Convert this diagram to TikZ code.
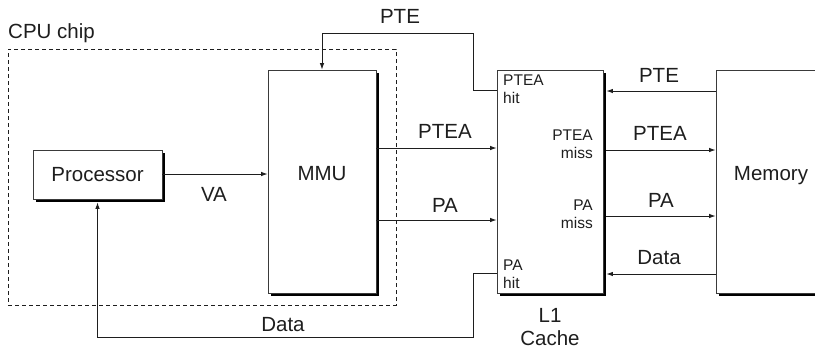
\documentclass[tikz,border=0pt]{standalone}
\usepackage{fontspec}
\setmainfont{Liberation Sans}
\usetikzlibrary{arrows.meta,positioning,calc,shadows}
\definecolor{VMInk}{HTML}{1E1E1E}
\definecolor{VMEdge}{HTML}{3A3A3A}
\tikzset{
  flow/.style={-{Latex[length=6.5pt,width=4.5pt]},VMInk,line width=0.9pt},
  unitbox/.style={draw=VMEdge,line width=0.8pt,fill=white,inner sep=0pt,
                  general shadow={fill=black,shadow xshift=3pt,shadow yshift=-3pt},
                  text=VMInk,font=\fontsize{20.5}{23}\selectfont},
  chipbox/.style={draw=VMInk,line width=0.8pt,dash pattern=on 4pt off 3pt},
  siglabel/.style={text=VMInk,inner sep=0pt,font=\fontsize{20.5}{23}\selectfont,align=center},
  portlabel/.style={text=VMInk,inner sep=0pt,font=\fontsize{15.5}{18}\selectfont},
}
\begin{document}
\begin{tikzpicture}[x=1pt,y=-1pt]
  \clip (0,0) rectangle (815,349);
  \fill[white] (0,0) rectangle (815,349);

  % chip boundary
  \node[chipbox,minimum width=388pt,minimum height=256pt] (chip) at (202,177) {};
  \node[siglabel,anchor=base west] (chiplabel) at (8,38) {CPU chip};

  % units
  \node[unitbox,minimum width=129pt,minimum height=49pt] (processor) at (97.5,174.5) {Processor};
  \node[unitbox,minimum width=108pt,minimum height=223pt] (mmu) at (322,181.5) {};
  \node[siglabel] (mmutext) at ([yshift=8pt]mmu.center) {MMU};
  \node[unitbox,minimum width=106pt,minimum height=223pt] (cache) at (550,181.5) {};
  \node[unitbox,minimum width=110pt,minimum height=223pt] (memory) at (771,181.5) {};
  \node[siglabel] (memtext) at ([yshift=6pt]memory.center) {Memory};
  \node[siglabel,anchor=north] (cachelabel) at (550,308) {L1\\Cache};

  % ports inside the cache
  \node[portlabel,align=left,anchor=north west] (pteahit) at (503,75) {PTEA\\hit};
  \node[portlabel,align=right,anchor=north east] (pteamiss) at (593,130) {PTEA\\miss};
  \node[portlabel,align=right,anchor=north east] (pamiss) at (593,200) {PA\\miss};
  \node[portlabel,align=left,anchor=north west] (pahit) at (503,260) {PA\\hit};

  % rows and bends
  \coordinate (rowva) at (0,174);
  \coordinate (rowptea) at (0,148);
  \coordinate (rowpa) at (0,220);
  \coordinate (rowhit) at (0,90);
  \coordinate (rowdata) at (0,273);
  \coordinate (rowmpte) at (0,91);
  \coordinate (rowmptea) at (0,150);
  \coordinate (rowmpa) at (0,216);
  \coordinate (rowmdata) at (0,274);
  \coordinate (ptebend) at (473,33);
  \coordinate (databend) at (473,337);
  \coordinate (cacheedge) at ([xshift=3pt]cache.east);
  \coordinate (procfoot) at ([yshift=-3pt]processor.south);

  % processor side
  \draw[flow] (processor.east |- rowva) -- (mmu.west |- rowva);
  \node[siglabel,anchor=base] (valabel) at (214,201) {VA};
  \draw[flow] (mmu.east |- rowptea) -- (cache.west |- rowptea);
  \node[siglabel,anchor=base] (pteal) at (445,138) {PTEA};
  \draw[flow] (mmu.east |- rowpa) -- (cache.west |- rowpa);
  \node[siglabel,anchor=base] (pal) at (445,212) {PA};
  \draw[flow] (cache.west |- rowhit) -| (ptebend) -| (mmu.north);
  \node[siglabel,anchor=base] (ptetop) at (400,23) {PTE};
  \draw[flow] (cache.west |- rowdata) -| (databend) -| (procfoot);
  \node[siglabel,anchor=base] (datalow) at (283,331) {Data};

  % memory side
  \draw[flow] (memory.west |- rowmpte) -- (cacheedge |- rowmpte);
  \node[siglabel,anchor=base] (pter) at (659,82) {PTE};
  \draw[flow] (cacheedge |- rowmptea) -- (memory.west |- rowmptea);
  \node[siglabel,anchor=base] (ptear) at (660,140) {PTEA};
  \draw[flow] (cacheedge |- rowmpa) -- (memory.west |- rowmpa);
  \node[siglabel,anchor=base] (par) at (661,207) {PA};
  \draw[flow] (memory.west |- rowmdata) -- (cacheedge |- rowmdata);
  \node[siglabel,anchor=base] (datar) at (659,264) {Data};
\end{tikzpicture}
\end{document}
